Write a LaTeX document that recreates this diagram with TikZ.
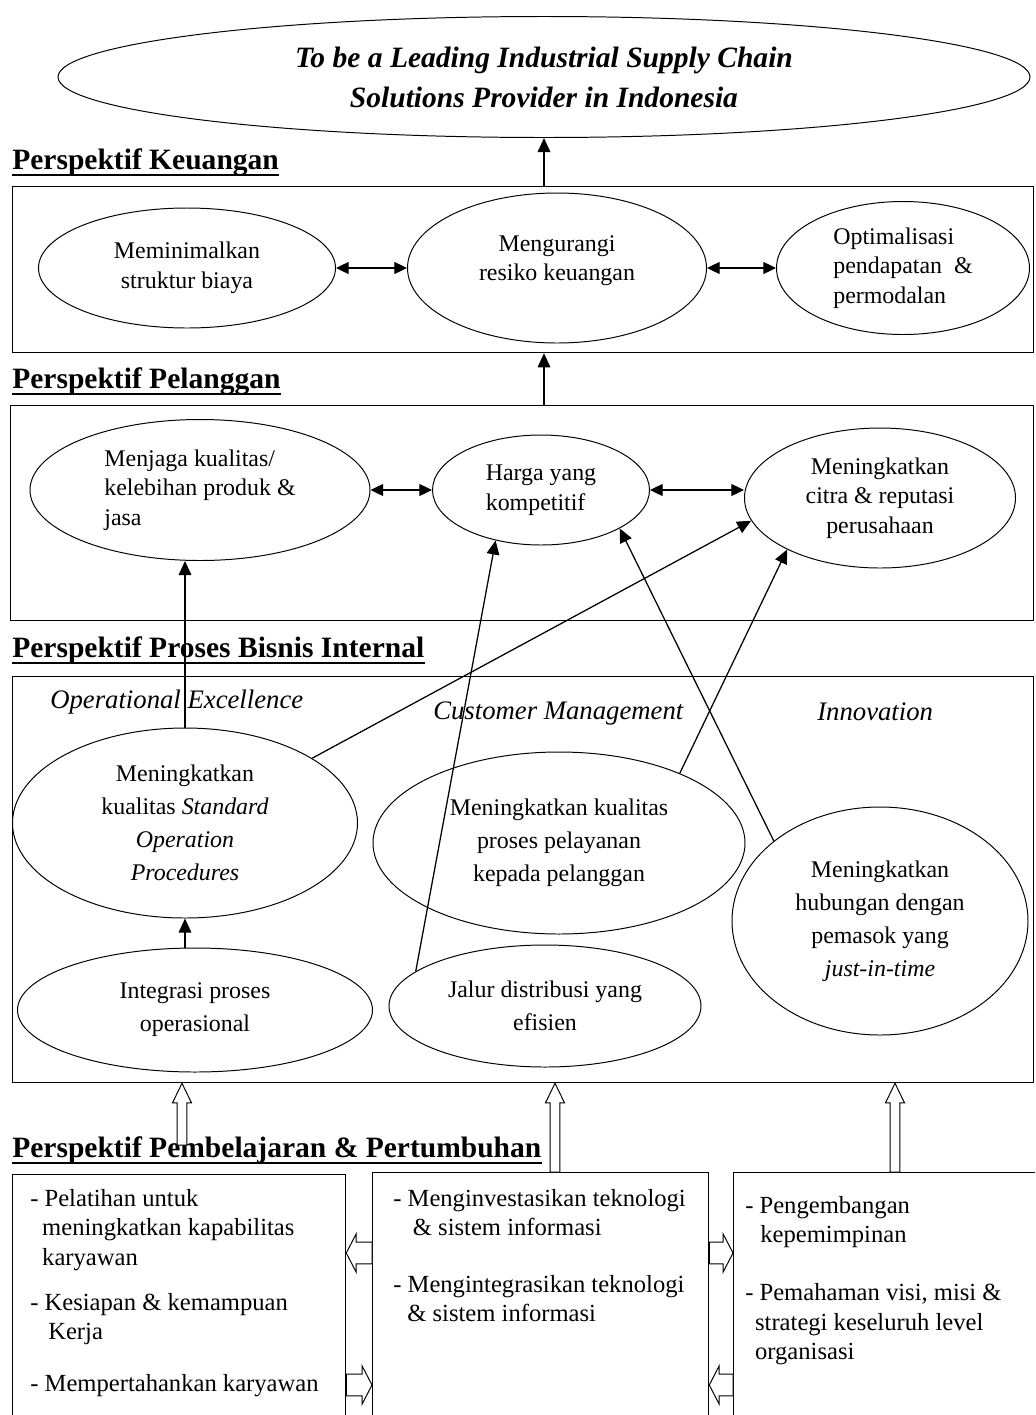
\documentclass[tikz,border=0pt]{standalone}
\usepackage{fontspec}
\setmainfont{Liberation Serif}
\usetikzlibrary{shapes.geometric,arrows.meta,calc}

\tikzset{
  ell/.style 2 args={ellipse,draw,line width=.7pt,inner sep=0pt,
    minimum width=#1*0.025cm,minimum height=#2*0.025cm,align=center,
    font=\fontsize{17}{21}\selectfont},
  box/.style 2 args={draw,line width=.9pt,anchor=north west,inner sep=0pt,
    minimum width=#1*0.025cm,minimum height=#2*0.025cm},
  ttl/.style={anchor=base west,inner sep=0pt,font=\fontsize{21}{25}\selectfont\bfseries},
  uline/.style={line width=1.4pt},
  sub/.style={anchor=base west,inner sep=0pt,font=\fontsize{19}{23}\selectfont\itshape},
  lst/.style={anchor=north west,inner sep=0pt,align=left,font=\fontsize{17.5}{21}\selectfont},
  arr/.style={line width=.9pt,-{Triangle[length=10pt,width=9pt]}},
  darr/.style={line width=.9pt,{Triangle[length=9pt,width=8.5pt]}-{Triangle[length=9pt,width=8.5pt]}},
  hollow/.style n args={3}{draw,line width=.7pt,fill=white,
    to path={let \p1=($(\tikztotarget)!#3!(\tikztostart)$) in
      ($(\tikztostart)!#1!90:(\tikztotarget)$) -- ($(\p1)!#1!90:(\tikztotarget)$)
      -- ($(\p1)!#2!90:(\tikztotarget)$) -- (\tikztotarget)
      -- ($(\p1)!#2!-90:(\tikztotarget)$) -- ($(\p1)!#1!-90:(\tikztotarget)$)
      -- ($(\tikztostart)!#1!-90:(\tikztotarget)$) -- cycle}},
  hollowv/.style={hollow={3.5pt}{6.8pt}{14pt}},
  hollowh/.style={hollow={7.8pt}{13.5pt}{7pt}},
}

\begin{document}
\begin{tikzpicture}[x=0.025cm,y=-0.025cm]
\useasboundingbox (0,0) rectangle (1035,1415);
\clip (0,0) rectangle (1035,1415);

% visi
\node[ell={972}{121},font=\fontsize{21}{28.5}\selectfont\bfseries\itshape] (visi) at (544,77)
  {To be a Leading Industrial Supply Chain\\Solutions Provider in Indonesia};

% keuangan
\node[ttl] (tk) at (12,169) {Perspektif Keuangan};
\node[box={1021}{166}] (keu) at (12,186) {};
\node[ell={297}{120}] (biaya) at (187,268) {Meminimalkan\\struktur biaya};
\node[ell={299}{150}] (resiko) at (557,268) {Mengurangi\\resiko keuangan\\[-7pt]};
\node[ell={253}{133},align=left] (modal) at (903,268) {Optimalisasi\\pendapatan~~\&\\permodalan};
\draw[darr] (biaya) -- (resiko);
\draw[darr] (resiko) -- (modal);
\draw[arr] (visi.south |- keu.north) -- (visi.south);

% pelanggan
\node[ttl] (tp) at (12,388) {Perspektif Pelanggan};
\node[box={1023}{215}] (pel) at (10,405) {};
\node[ell={340}{141},align=left] (produk) at (200,490) {Menjaga kualitas/\\kelebihan produk \&\\jasa};
\node[ell={217}{110},align=left] (harga) at (541,490) {Harga yang\\kompetitif};
\node[ell={271}{140}] (citra) at (880,498) {Meningkatkan\\citra \& reputasi\\perusahaan};
\draw[darr] (produk) -- (harga);
\draw[darr] (harga.east) -- (citra.west |- harga.east);
\draw[arr] (visi.south |- pel.north) -- (visi.south |- keu.south);

% proses bisnis internal
\node[ttl] (tb) at (12,657) {Perspektif Proses Bisnis Internal};
\node[box={1021}{406}] (pro) at (12,676) {};
\node[sub] (oe) at (50,708) {Operational Excellence};
\node[sub] (cm) at (433,719) {Customer Management};
\node[sub] (inv) at (817,720) {Innovation};
\node[ell={345}{190},font=\fontsize{17}{23.5}\selectfont] (sop) at (185,823)
  {Meningkatkan\\kualitas \textit{Standard}\\\textit{Operation}\\\textit{Procedures}};
\node[ell={372}{182},font=\fontsize{17}{23.5}\selectfont] (layan) at (559,843)
  {Meningkatkan kualitas\\proses pelayanan\\kepada pelanggan};
\node[ell={296}{228},font=\fontsize{17}{23.5}\selectfont] (pasok) at (880,921)
  {Meningkatkan\\hubungan dengan\\pemasok yang\\\textit{just-in-time}};
\node[ell={355}{124},font=\fontsize{17}{23.5}\selectfont] (integ) at (195,1010) {Integrasi proses\\operasional};
\node[ell={312}{122},font=\fontsize{17}{23.5}\selectfont] (jalur) at (545,1006) {Jalur distribusi yang\\efisien};
\draw[arr] (sop.south |- integ.north) -- (sop.south);
\draw[arr] (sop.north) -- (sop.north |- produk.south);
\draw[arr] (sop.27) -- (citra.190);
\draw[arr] (jalur.165) -- (harga.228);
\draw[arr] (layan.30) -- (citra.209);
\draw[arr] (pasok.143) -- (harga.334);

% pembelajaran & pertumbuhan
\node[ttl] (tl) at (12,1157) {Perspektif Pembelajaran \& Pertumbuhan};
\node[box={333}{260}] (kiri) at (12,1174) {};
\node[box={336}{260}] (tengah) at (372,1172) {};
\node[box={310}{260}] (kanan) at (733,1172) {};
\node[lst] (lkiri) at (30,1189) {- Pelatihan untuk\\
  \hspace*{8.5pt}meningkatkan kapabilitas\\
  \hspace*{8.5pt}karyawan\\[11pt]
  - Kesiapan \& kemampuan\\
  \hspace*{12.8pt}Kerja\\[16pt]
  - Mempertahankan karyawan};
\node[lst] (ltengah) at (393,1189) {- Menginvestasikan teknologi\\
  \hspace*{14pt}\& sistem informasi\\[19pt]
  - Mengintegrasikan teknologi\\
  \hspace*{10pt}\& sistem informasi};
\node[lst] (lkanan) at (745,1196) {- Pengembangan\\
  \hspace*{10.7pt}kepemimpinan\\[20pt]
  - Pemahaman visi, misi \&\\
  \hspace*{7pt}strategi keseluruh level\\
  \hspace*{7pt}organisasi};

\coordinate (u1) at (182,1145);
\coordinate (u2) at (555,1172);
\coordinate (u3) at (895,1172);
\foreach \u in {u1,u2,u3} \draw[hollowv] (\u) to (\u |- pro.south);
\coordinate (r1) at (0,1253);
\coordinate (r2) at (0,1385);
\draw[hollowh] (tengah.west |- r1) to (kiri.east |- r1);
\draw[hollowh] (tengah.east |- r1) to (kanan.west |- r1);
\draw[hollowh] (kiri.east |- r2) to (tengah.west |- r2);
\draw[hollowh] (kanan.west |- r2) to (tengah.east |- r2);

\foreach \t in {tk,tp,tb,tl}
  \draw[uline] ([yshift=-4pt]\t.base west) -- ([yshift=-4pt]\t.base east);
\end{tikzpicture}
\end{document}
